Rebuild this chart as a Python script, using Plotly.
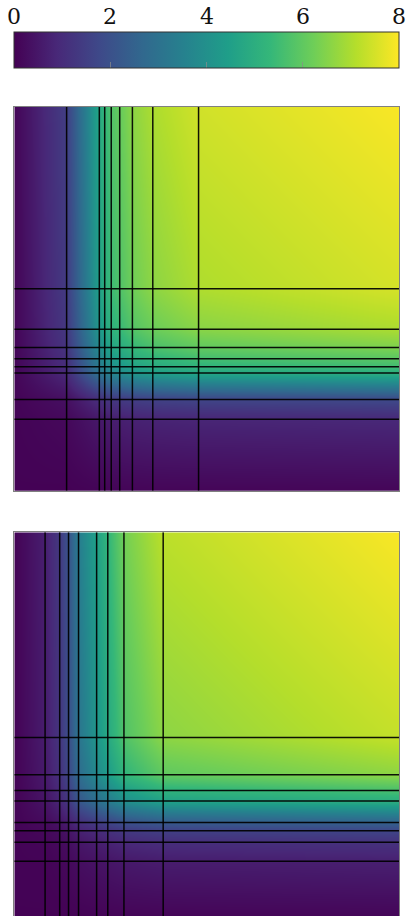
import plotly.graph_objects as go

# ---------------- data ----------------
# mesh node coordinates (normalised to [0, 1]) and nodal values, panel 1 (top)
X1 = [0.0, 0.136, 0.221, 0.235, 0.252, 0.274, 0.307, 0.360, 0.479, 1.0]
Y1 = [0.0, 0.186, 0.238, 0.307, 0.323, 0.344, 0.373, 0.421, 0.526, 1.0]
Z1 = [
    [0.03, 0.02, 0.06, 0.07, 0.07, 0.08, 0.08, 0.09, 0.09, 0.10],
    [0.05, 0.17, 0.54, 0.60, 0.66, 0.69, 0.75, 0.79, 0.84, 0.90],
    [0.06, 0.34, 1.09, 1.20, 1.31, 1.38, 1.49, 1.58, 1.68, 1.80],
    [0.10, 0.94, 3.02, 3.33, 3.65, 3.84, 4.15, 4.40, 4.69, 5.00],
    [0.10, 1.04, 3.32, 3.67, 4.01, 4.22, 4.57, 4.84, 5.16, 5.50],
    [0.10, 1.11, 3.56, 3.93, 4.30, 4.53, 4.90, 5.19, 5.53, 5.90],
    [0.10, 1.21, 3.86, 4.27, 4.67, 4.91, 5.31, 5.64, 6.00, 6.40],
    [0.10, 1.32, 4.23, 4.67, 5.11, 5.37, 5.81, 6.17, 6.56, 7.00],
    [0.10, 1.41, 4.53, 5.00, 5.47, 5.75, 6.22, 6.60, 7.03, 7.50],
    [0.10, 1.50, 4.80, 5.30, 5.80, 6.10, 6.60, 7.00, 7.45, 7.95],
]

# panel 2 (bottom)
X2 = [0.0, 0.080, 0.118, 0.141, 0.167, 0.214, 0.243, 0.285, 0.387, 1.0]
Y2 = [0.0, 0.143, 0.192, 0.222, 0.244, 0.300, 0.327, 0.368, 0.465, 1.0]
Z2 = [
    [0.03, 0.03, 0.03, 0.03, 0.04, 0.06, 0.07, 0.08, 0.09, 0.10],
    [0.05, 0.06, 0.12, 0.18, 0.30, 0.40, 0.46, 0.55, 0.63, 0.70],
    [0.05, 0.10, 0.20, 0.30, 0.49, 0.66, 0.76, 0.91, 1.04, 1.15],
    [0.05, 0.15, 0.28, 0.44, 0.71, 0.94, 1.09, 1.31, 1.49, 1.65],
    [0.05, 0.22, 0.43, 0.66, 1.07, 1.43, 1.65, 1.98, 2.27, 2.50],
    [0.05, 0.44, 0.85, 1.32, 2.14, 2.86, 3.30, 3.96, 4.53, 5.00],
    [0.05, 0.50, 0.96, 1.49, 2.42, 3.23, 3.73, 4.47, 5.12, 5.65],
    [0.05, 0.58, 1.12, 1.74, 2.82, 3.78, 4.36, 5.23, 5.98, 6.60],
    [0.05, 0.64, 1.24, 1.93, 3.12, 4.18, 4.82, 5.78, 6.61, 7.30],
    [0.05, 0.70, 1.35, 2.10, 3.40, 4.55, 5.25, 6.30, 7.20, 7.95],
]

CBAR_TICKS = [0, 2, 4, 6, 8]
CMIN, CMAX = 0, 8

# ---------------- layout geometry (pixels) ----------------
W, H = 412, 916
P1 = dict(left=14.3, right=399.0, top=107.0, bottom=490.7)
P2 = dict(left=14.3, right=399.0, top=532.3, bottom=916.0)
CB = dict(left=14.3, right=399.0, top=32.7, bottom=68.3)
CB_YSHIFT = 6.5  # plotly places the horizontal bar slightly above its anchor
SERIF = "DejaVu Serif"


def xdom(p):
    return [p["left"] / W, p["right"] / W]


def ydom(p):
    return [1 - p["bottom"] / H, 1 - p["top"] / H]


fig = go.Figure()

panels = [(X1, Y1, Z1, "x", "y"), (X2, Y2, Z2, "x2", "y2")]
for X, Y, Z, xa, ya in panels:
    fig.add_trace(go.Heatmap(
        x=X, y=Y, z=Z, coloraxis="coloraxis", zsmooth="best",
        xaxis=xa, yaxis=ya, hoverinfo="skip",
    ))
    lx, ly = [], []
    for xv in X[1:-1]:
        lx += [xv, xv, None]
        ly += [Y[0], Y[-1], None]
    for yv in Y[1:-1]:
        lx += [X[0], X[-1], None]
        ly += [yv, yv, None]
    fig.add_trace(go.Scatter(
        x=lx, y=ly, mode="lines",
        line=dict(color="rgba(0,0,0,0.92)", width=1.5),
        xaxis=xa, yaxis=ya, showlegend=False, hoverinfo="skip",
    ))

axis_style = dict(
    range=[0, 1], showgrid=False, zeroline=False, showticklabels=False,
    ticks="", showline=True, linecolor="#808080", linewidth=1, mirror=True,
    fixedrange=True,
)

cb_len = (CB["right"] - CB["left"]) / W
cb_x0 = CB["left"] / W

fig.update_layout(
    width=W, height=H,
    margin=dict(l=0, r=0, t=0, b=0),
    paper_bgcolor="white", plot_bgcolor="white",
    font=dict(family=SERIF),
    showlegend=False,
    xaxis=dict(axis_style, domain=xdom(P1), anchor="y"),
    yaxis=dict(axis_style, domain=ydom(P1), anchor="x"),
    xaxis2=dict(axis_style, domain=xdom(P2), anchor="y2"),
    yaxis2=dict(axis_style, domain=ydom(P2), anchor="x2"),
    coloraxis=dict(
        colorscale="Viridis", cmin=CMIN, cmax=CMAX,
        colorbar=dict(
            orientation="h",
            x=cb_x0 + cb_len / 2, xanchor="center",
            y=1 - (CB["bottom"] + CB_YSHIFT) / H, yanchor="bottom",
            len=cb_len, lenmode="fraction",
            thickness=CB["bottom"] - CB["top"], thicknessmode="pixels",
            xpad=0, ypad=0,
            outlinewidth=1, outlinecolor="#333333",
            tickvals=CBAR_TICKS[1:-1], ticks="inside", ticklen=6,
            tickcolor="rgba(140,140,140,0.7)", tickwidth=1,
            showticklabels=False,
        ),
    ),
)

for v in CBAR_TICKS:
    fig.add_annotation(
        x=cb_x0 + (v - CMIN) / (CMAX - CMIN) * cb_len, xref="paper",
        y=1 - 16 / H, yref="paper",
        text=str(v), showarrow=False,
        xanchor="center", yanchor="middle",
        font=dict(family=SERIF, size=22, color="#111111"),
    )

fig.write_html(
    "out.html",
    config={"displayModeBar": False},
    post_script="document.body.style.margin='0';document.body.style.overflow='hidden';",
)
